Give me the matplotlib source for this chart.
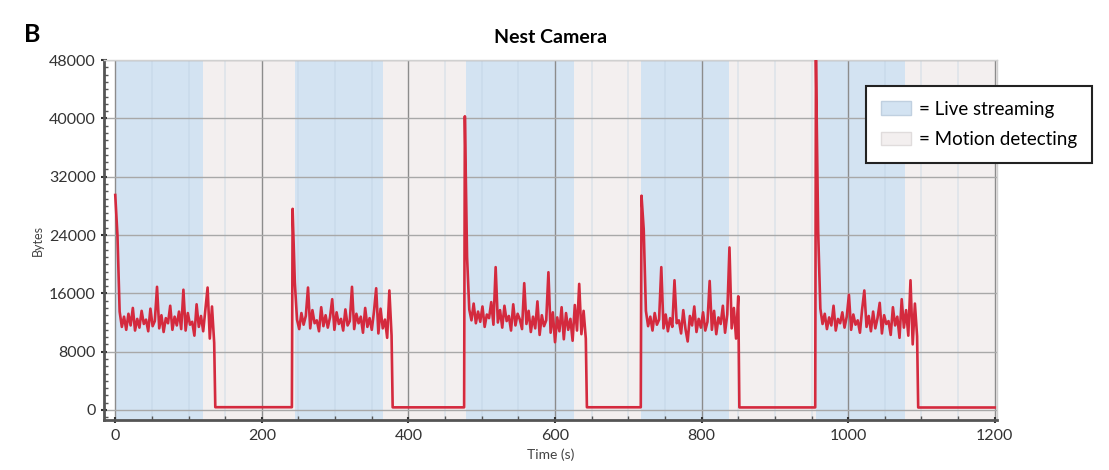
import matplotlib as mpl
mpl.use('Agg')
import matplotlib.pyplot as plt
from matplotlib.patches import Patch
from matplotlib.ticker import MultipleLocator

import numpy as np

plt.rcParams['font.family'] = ['Lato', 'DejaVu Sans']

# #############################################################################
# Data (bytes per sample, one sample every 3 s)
step = 3
burst_start = [0, 242, 477, 718, 956]

burst1 = [29500, 24000, 13500, 11400, 12800, 11000, 13200, 11600, 14000, 10900,
          12500, 11300, 13600, 11800, 12400, 10800, 13900, 11500, 12200, 16900,
          11200, 13000, 10700, 12600, 11900, 14300, 11000, 12800, 11600, 13500,
          11100, 16500, 10900, 13300, 11700, 12100, 10200, 14500, 11400, 12900,
          10800, 13800, 16800, 9800, 14200, 9200]
burst2 = [27600, 17500, 12400, 11100, 13300, 11700, 12900, 16800, 11200, 13700,
          11900, 12300, 10800, 14100, 11500, 13000, 11300, 12700, 15200, 11000,
          13400, 11800, 12500, 10900, 13800, 11600, 12200, 16900, 11100, 13200,
          11900, 12800, 10600, 14000, 11400, 12600, 11000, 13500, 16700, 10500,
          13900, 11200, 12400, 9900, 16400, 10200]
burst3 = [40300, 21000, 13800, 12300, 14600, 11900, 13500, 12100, 14200, 11400,
          13100, 12600, 14800, 11700, 19600, 12000, 13700, 11300, 14300, 12200,
          12900, 10900, 14500, 11600, 13200, 12400, 11100, 17400, 11800, 13600,
          10700, 12800, 11200, 14900, 10300, 13000, 11500, 12300, 18900, 10600,
          13400, 9300, 12700, 10800, 14100, 9700, 13300, 11000, 12500, 9500,
          14400, 10900, 17300, 10400, 13600, 9800]
burst4 = [29400, 24800, 13600, 11500, 12800, 10900, 13300, 11700, 12400, 19600,
          11200, 13100, 10800, 12600, 11400, 17800, 11900, 12300, 10500, 13700,
          11100, 9400, 12900, 11600, 14200, 10700, 12500, 11300, 13400, 10900,
          12100, 17700, 11000, 13600, 10400, 12700, 11800, 14300, 10600, 13100,
          22300, 11200, 14000, 9800, 15600]
burst5 = [48000, 24500, 13900, 11800, 13200, 11100, 12700, 11600, 14300, 10900,
          12500, 11900, 13400, 11300, 12800, 15800, 11000, 13100, 11700, 12300,
          10600, 13800, 16400, 11400, 12900, 10800, 13500, 11200, 12600, 14700,
          10500, 13000, 11800, 12200, 10300, 14100, 11600, 12800, 9900, 15200,
          11300, 13700, 10200, 17800, 9000, 14600, 10100]
bursts = [burst1, burst2, burst3, burst4, burst5]

# idle (motion detecting) traffic level after each burst
idle_level = [380, 360, 370, 350, 340]
t_end = 1200

# background periods
live_spans = [(0, 120), (245, 365), (479, 626), (717, 837), (956, 1078)]
motion_spans = [(120, 245), (365, 479), (626, 717), (837, 956), (1078, 1203)]

# #############################################################################
# Build the series
t = []
y = []
for i, b in enumerate(bursts):
    t0 = burst_start[i]
    tb = t0 + step * np.arange(len(b))
    t.extend(tb)
    y.extend(b)
    nxt = burst_start[i + 1] - 1 if i + 1 < len(bursts) else t_end
    t.extend([tb[-1] + 1.5, nxt])
    y.extend([idle_level[i], idle_level[i]])
t = np.array(t)
y = np.array(y)

# #############################################################################
# Plot
fig = plt.figure(figsize=(11.09, 4.70), dpi=100)
ax = fig.add_axes([0.094, 0.106, 0.805, 0.766])

for a, b in live_spans:
    ax.axvspan(a, b, color='#d3e3f2', lw=0, zorder=0)
for a, b in motion_spans:
    ax.axvspan(a, b, color='#f3efef', lw=0, zorder=0)

ax.grid(True, which='major', axis='y', color='#a8a8a8', lw=1.0, zorder=1)
ax.grid(True, which='major', axis='x', color='#8c8c8c', lw=1.0, zorder=1)
ax.grid(True, which='minor', axis='x', color='#b8cde0', lw=1.2, alpha=0.35, zorder=1)

ax.plot(t, y, color='#d42a3e', lw=1.9, zorder=3)

ax.set_xlim(-15, 1203)
ax.set_ylim(-1400, 48000)
ax.xaxis.set_major_locator(MultipleLocator(200))
ax.xaxis.set_minor_locator(MultipleLocator(50))
ax.yaxis.set_major_locator(MultipleLocator(8000))
ax.yaxis.set_minor_locator(MultipleLocator(1000))
ax.tick_params(which='major', direction='inout', length=5, width=1.5,
               labelsize=11.5, colors='#333333')
ax.tick_params(which='minor', direction='in', length=3, width=1,
               colors='#555555')

for s in ['left', 'bottom']:
    ax.spines[s].set_color('#555555')
    ax.spines[s].set_linewidth(2)
for s in ['top', 'right']:
    ax.spines[s].set_color('#d0d0d0')
    ax.spines[s].set_linewidth(1)

ax.set_xlabel('Time (s)', fontsize=10, color='#444444')
ax.set_ylabel('Bytes', fontsize=9, color='#444444')
ax.set_title('Nest Camera', fontsize=14, fontweight='bold', pad=12)
fig.text(0.022, 0.91, 'B', fontsize=18, fontweight='bold')

handles = [Patch(facecolor='#d3e3f2', edgecolor='#c0d0e0'),
           Patch(facecolor='#f3efef', edgecolor='#e0dcdc')]
leg = fig.legend(handles, ['= Live streaming', '= Motion detecting'],
                 loc='upper right', bbox_to_anchor=(0.993, 0.838),
                 fontsize=13.5, fancybox=False, framealpha=1,
                 handlelength=1.6, handletextpad=0.4, borderpad=0.8,
                 labelspacing=0.7)
leg.get_frame().set_edgecolor('#222222')
leg.get_frame().set_linewidth(1.5)
leg.set_zorder(10)

plt.savefig('out.png', dpi=100)
